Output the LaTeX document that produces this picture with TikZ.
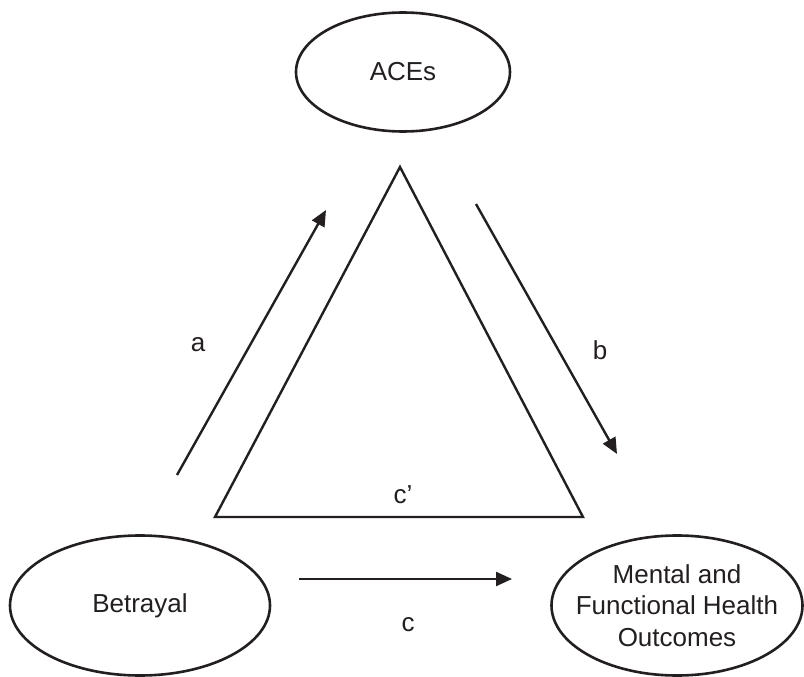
\documentclass[tikz,border=0pt]{standalone}
\usepackage{fontspec}
\setmainfont{Liberation Sans}
\usetikzlibrary{shapes.geometric,arrows.meta}
\definecolor{ink}{HTML}{231F20}
\begin{document}
\begin{tikzpicture}[x=1pt,y=-1pt,
  oval/.style={ellipse,draw=ink,line width=2.6pt,inner sep=0pt,text=ink,align=center,
    font=\fontsize{26}{31.5}\selectfont},
  lbl/.style={text=ink,inner sep=0pt,font=\fontsize{26}{31.5}\selectfont},
  conn/.style={draw=ink,line width=2.4pt,-{Triangle[length=16pt,width=14pt]}},
  tri/.style={draw=ink,line width=2.4pt,line join=miter}]
\useasboundingbox (0,0) rectangle (804,677);
\fill[white] (0,0) rectangle (804,677);
\node[oval,minimum width=214pt,minimum height=119pt] (aces) at (403,72) {ACEs};
\node[oval,minimum width=260pt,minimum height=140pt] (betrayal) at (140,605.5) {Betrayal};
\node[oval,inner xsep=-45pt,inner ysep=-10pt,minimum width=251pt,minimum height=140pt] (mental) at (677,605.5) {Mental and\\Functional Health\\Outcomes};
\coordinate (apex) at (400,167);
\coordinate (bl) at (215,517);
\coordinate (br) at (583,517);
\draw[tri] (apex) -- (bl) -- (br) -- cycle;
\coordinate (as) at (177,475);
\coordinate (ae) at (326,210);
\coordinate (bs) at (476,204);
\coordinate (be) at (617,454);
\coordinate (cs) at (299,579);
\coordinate (ce) at (512,579);
\draw[conn] (as) -- (ae);
\draw[conn] (bs) -- (be);
\draw[conn] (cs) -- (ce);
\node[lbl] (la) at (198,345) {a};
\node[lbl] (lb) at (600,350) {b};
\node[lbl] (lc) at (408,625) {c};
\node[lbl] (lcp) at (403,495) {c’};
\end{tikzpicture}
\end{document}
